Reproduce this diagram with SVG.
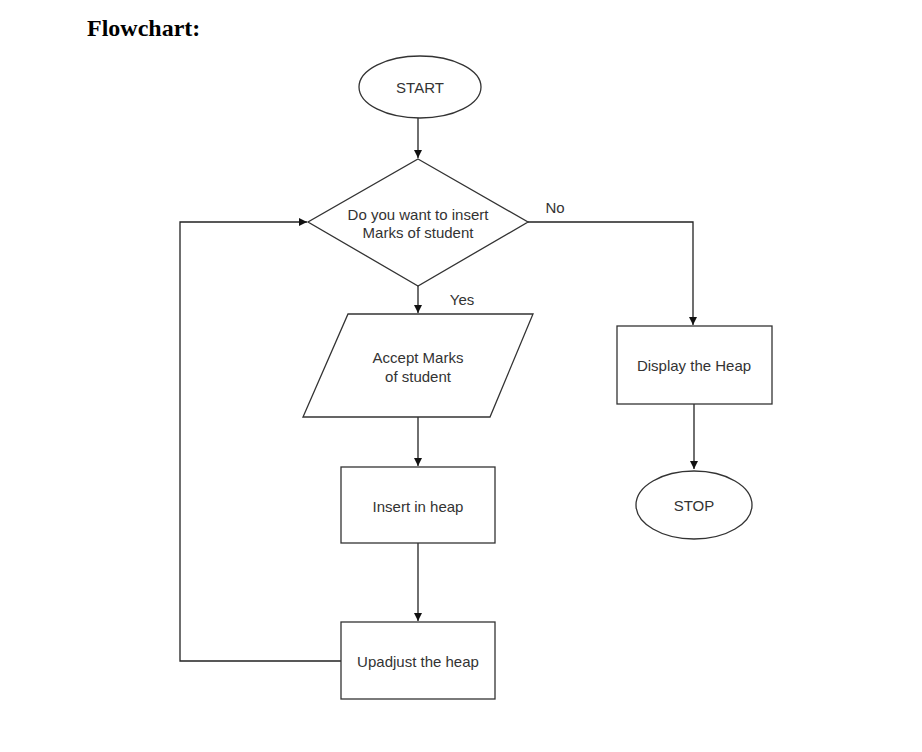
<svg xmlns="http://www.w3.org/2000/svg" width="922" height="752" viewBox="0 0 922 752">
<style>
.s{fill:#fff;stroke:#333;stroke-width:1.3}
.t{font-family:"Liberation Sans",Arial,sans-serif;font-size:15px;fill:#333;text-anchor:middle}
.c{fill:none;stroke:#222;stroke-width:1.3}
</style>
<defs>
<marker id="a" markerWidth="10" markerHeight="10" refX="9" refY="5" orient="auto" markerUnits="userSpaceOnUse">
<path d="M1,1 L9,5 L1,9 z" fill="#111"/>
</marker>
</defs>
<rect width="922" height="752" fill="#fff"/>
<text x="87" y="36" font-family="Liberation Serif,'Times New Roman',serif" font-size="24" font-weight="bold" fill="#000">Flowchart:</text>
<g id="connectors">
<path class="c" d="M418,118 V158" marker-end="url(#a)"/>
<path class="c" d="M418,286 V313" marker-end="url(#a)"/>
<path class="c" d="M418,417 V466" marker-end="url(#a)"/>
<path class="c" d="M418,543 V621" marker-end="url(#a)"/>
<path class="c" d="M341,661 H180 V222 H307" marker-end="url(#a)"/>
<path class="c" d="M528,222 H693 V325" marker-end="url(#a)"/>
<path class="c" d="M694,404 V469" marker-end="url(#a)"/>
<text class="t" x="555" y="213">No</text>
<text class="t" x="462" y="305">Yes</text>
</g>
<g id="start">
<ellipse class="s" cx="420" cy="87" rx="61" ry="31"/>
<text class="t" x="420" y="93">START</text>
</g>
<g id="decision">
<polygon class="s" points="418,159 528,222 418,286 308,222"/>
<text class="t" x="418" y="220">Do you want to insert</text>
<text class="t" x="418" y="238">Marks of student</text>
</g>
<g id="accept">
<polygon class="s" points="348,314 533,314 490,417 303,417"/>
<text class="t" x="418" y="363">Accept Marks</text>
<text class="t" x="418" y="382">of student</text>
</g>
<g id="insert">
<rect class="s" x="341" y="467" width="154" height="76"/>
<text class="t" x="418" y="512">Insert in heap</text>
</g>
<g id="upadjust">
<rect class="s" x="341" y="622" width="154" height="77"/>
<text class="t" x="418" y="667">Upadjust the heap</text>
</g>
<g id="display">
<rect class="s" x="617" y="326" width="155" height="78"/>
<text class="t" x="694" y="371">Display the Heap</text>
</g>
<g id="stop">
<ellipse class="s" cx="694" cy="505" rx="58" ry="34"/>
<text class="t" x="694" y="511">STOP</text>
</g>
</svg>
